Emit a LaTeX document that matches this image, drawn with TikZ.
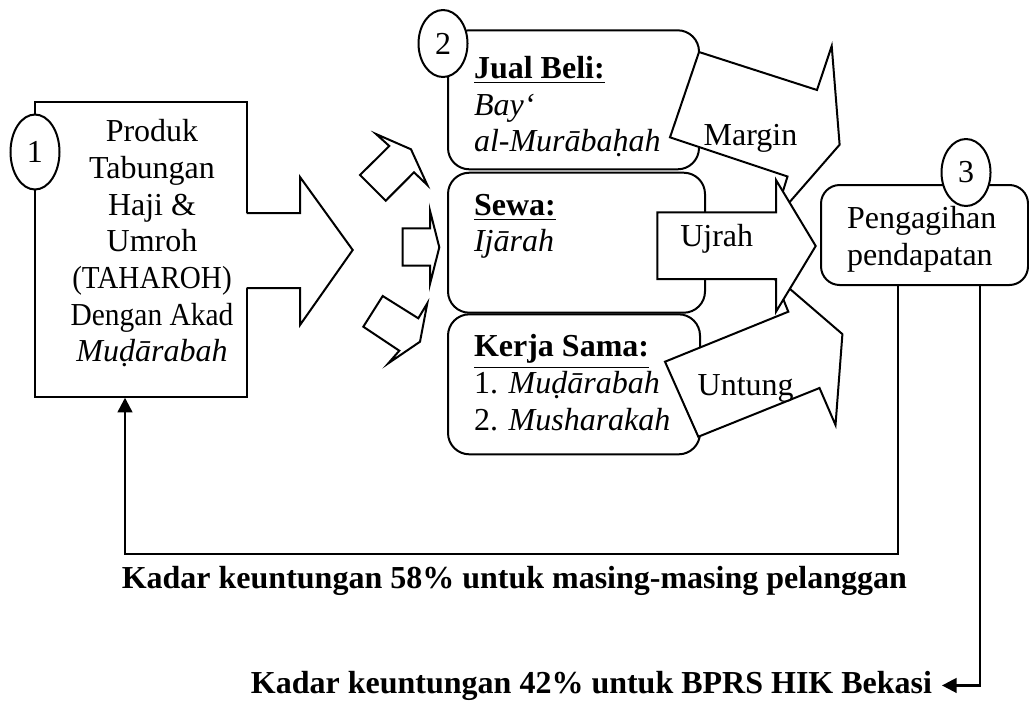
\documentclass[tikz,border=0pt]{standalone}
\usepackage{fontspec}
\setmainfont{Liberation Serif}
\usetikzlibrary{arrows.meta, shapes.geometric}

\def\pxu{0.375pt} % one pixel of the layout grid

\begin{document}
\begin{tikzpicture}[
    x=0.375pt, y=-0.375pt,
    >={Triangle[width=5.5pt, length=5.5pt]},
    font=\fontsize{12pt}{13.75pt}\selectfont,
    line width=0.75pt,
    akadbox/.style={draw, rounded corners=8pt, anchor=north west, inner sep=0pt},
    numcirc/.style={ellipse, draw, fill=white, inner sep=0pt,
                    minimum width=49*\pxu, minimum height=67*\pxu},
    blockarrow/.style={draw, fill=white, line join=miter},
    boxtext/.style={anchor=base west, align=left, inner sep=0pt}, % base = last line
    flowlabel/.style={anchor=base west, inner sep=0pt},
    feedarrow/.style={->, line width=0.9pt},
    sharelabel/.style={font=\fontsize{12pt}{13.75pt}\selectfont\bfseries, anchor=base west},
]

\useasboundingbox (0,0) rectangle (1029,702);

% ── Box 1: product, with its big arrow ──
\node[draw, minimum width=212*\pxu, minimum height=295*\pxu, inner sep=0pt] (produk) at (141,249.2) {};
\fill[white] (244,213) -- (300,213) -- (300,177) -- (352.7,250) -- (300,325) -- (300,288) -- (244,288) -- cycle;
\draw[line join=miter] (246.7,213) -- (300,213) -- (300,177) -- (352.7,250) -- (300,325) -- (300,288) -- (246.7,288);
\node[boxtext, align=center, anchor=base] (produkteks) at (152,361.7)
    {Produk\\Tabungan\\Haji \&\\Umroh\\\scalebox{0.91}[1]{(TAHAROH)}\\\scalebox{0.92}[1]{Dengan Akad}\\\textit{Muḍārabah}};

% ── Small arrows to the contracts ──
\draw[blockarrow] (376,134) -- (411,149.3) -- (427.3,185) -- (414,172.3) -- (385.7,200.7) -- (360,175) -- (389.3,146) -- cycle;
\draw[blockarrow] (402.7,228.3) -- (430,228.3) -- (430,210.7) -- (439.3,247.3) -- (430,284) -- (430,265.7) -- (402.7,265.7) -- cycle;
\draw[blockarrow] (382.7,296) -- (418.3,318.3) -- (427.3,303.3) -- (420,341.7) -- (388.3,363.3) -- (399.3,350.7) -- (363.3,326.7) -- cycle;

% ── Box 2: contracts ──
\node[akadbox, minimum width=251*\pxu, minimum height=139*\pxu] (jualbeli) at (447,29.3) {};
\node[akadbox, minimum width=257*\pxu, minimum height=140*\pxu] (sewa) at (447,171.7) {};
\node[akadbox, minimum width=252*\pxu, minimum height=140*\pxu] (kerjasama) at (447,313.3) {};

\node[boxtext] (jbteks) at (473,151.7) {\underline{\textbf{Jual Beli:}}\\\textit{Bay‘}\\\textit{al-Murābaḥah}};
\node[boxtext] (sewateks) at (473,251.7) {\underline{\textbf{Sewa:}}\\\textit{Ijārah}};
\node[boxtext] (ksteks) at (473,430) {\underline{\textbf{Kerja Sama:}}\\1. \textit{Muḍārabah}\\2. \textit{Musharakah}};

% ── Return arrows: Margin, Untung, Ujrah (Ujrah on top) ──
\draw[blockarrow] (699,52) -- (817,90) -- (831.7,46) -- (839.6,144.7) -- (774,220) -- (787.5,176.5) -- (670,137.3) -- cycle;
\draw[blockarrow] (665,361.7) -- (788.3,311.7) -- (773.3,274.6) -- (842.4,334.1) -- (835.5,425) -- (819.5,388) -- (698.3,436.7) -- cycle;
\draw[blockarrow] (657.3,212.3) -- (776,212.3) -- (776,180) -- (815.7,246) -- (776,311.7) -- (776,279) -- (657.3,279) -- cycle;

\node[flowlabel] (margin) at (702.7,145) {Margin};
\node[flowlabel] (ujrah) at (679.3,246) {Ujrah};
\node[flowlabel] (untung) at (696.7,395) {Untung};

% ── Box 3: income ──
\node[draw, rounded corners=7pt, minimum width=207*\pxu, minimum height=100*\pxu, inner sep=0pt] (pengagihan) at (924.5,235) {};
\node[boxtext] (pengteks) at (846,265.4) {Pengagihan\\pendapatan};

% ── Step numbers ──
\node[numcirc, minimum height=75*\pxu] (n1) at (35,152) {1};
\node[numcirc] (n2) at (443,43.5) {2};
\node[numcirc] (n3) at (966,172.5) {3};

% ── Profit shares ──
\node[sharelabel] (pelanggan) at (111.9,588) {Kadar keuntungan 58\% untuk masing-masing pelanggan};
\node[sharelabel] (bprs) at (241.1,693) {Kadar keuntungan 42\% untuk BPRS HIK Bekasi};

\draw[feedarrow] ([xshift=-9.9pt]pengagihan.south) -- ++(0,268) -| ([xshift=-6pt]produk.south);
\draw[feedarrow] ([xshift=20.8pt]pengagihan.south) |- (bprs.east);

\end{tikzpicture}
\end{document}
